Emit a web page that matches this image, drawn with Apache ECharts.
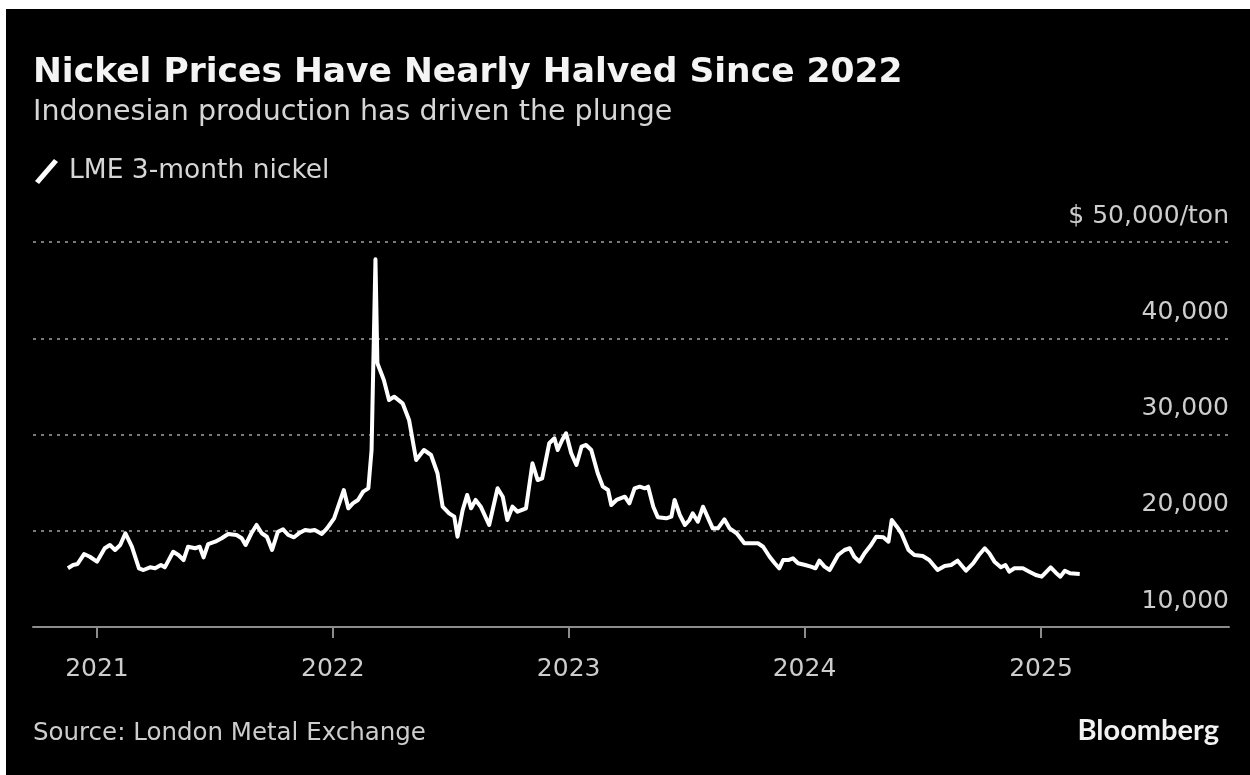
<!DOCTYPE html>
<html>
<head>
<meta charset="utf-8">
<title>Nickel Prices Have Nearly Halved Since 2022</title>
<script src="https://cdn.jsdelivr.net/npm/echarts@6/dist/echarts.min.js"></script>
<style>
  html, body { margin: 0; padding: 0; background: #fff; }
  #chart { position: absolute; left: 6px; top: 9px; width: 1244px; height: 766px; }
</style>
</head>
<body>
<div id="chart"></div>
<script>
// LME 3-month nickel, $/ton
const dates = [
  '2020-11-17', '2020-11-25', '2020-12-02', '2020-12-12', '2020-12-21',
  '2021-01-01', '2021-01-13', '2021-01-21', '2021-01-29', '2021-02-06', '2021-02-14', '2021-02-24',
  '2021-03-07', '2021-03-14', '2021-03-24', '2021-04-01', '2021-04-10', '2021-04-16', '2021-04-29',
  '2021-05-07', '2021-05-15', '2021-05-22', '2021-06-02', '2021-06-09', '2021-06-15', '2021-06-22',
  '2021-07-03', '2021-07-13', '2021-07-23', '2021-08-05', '2021-08-13', '2021-08-19', '2021-08-28',
  '2021-09-05', '2021-09-13', '2021-09-21', '2021-09-29', '2021-10-08', '2021-10-16', '2021-10-24',
  '2021-11-02', '2021-11-11', '2021-11-19', '2021-11-27', '2021-12-04', '2021-12-15', '2021-12-23',
  '2022-01-03', '2022-01-18', '2022-01-25', '2022-02-01', '2022-02-09', '2022-02-17', '2022-02-25',
  '2022-03-02', '2022-03-08', '2022-03-11', '2022-03-21', '2022-03-29', '2022-04-06', '2022-04-19',
  '2022-04-29', '2022-05-10', '2022-05-22', '2022-06-02', '2022-06-12', '2022-06-20', '2022-06-30',
  '2022-07-08', '2022-07-13', '2022-07-21', '2022-07-28', '2022-08-03', '2022-08-10', '2022-08-18',
  '2022-08-31', '2022-09-13', '2022-09-21', '2022-09-28', '2022-10-06', '2022-10-14', '2022-10-27',
  '2022-11-06', '2022-11-14', '2022-11-21', '2022-12-02', '2022-12-10', '2022-12-15', '2022-12-22',
  '2022-12-28', '2023-01-05', '2023-01-13', '2023-01-21', '2023-01-28', '2023-02-05', '2023-02-15',
  '2023-02-23', '2023-03-03', '2023-03-08', '2023-03-16', '2023-03-29', '2023-04-05', '2023-04-13',
  '2023-04-21', '2023-04-29', '2023-05-04', '2023-05-12', '2023-05-19', '2023-06-01', '2023-06-09',
  '2023-06-14', '2023-06-22', '2023-06-30', '2023-07-07', '2023-07-12', '2023-07-20', '2023-07-28',
  '2023-08-05', '2023-08-12', '2023-08-20', '2023-08-30', '2023-09-07', '2023-09-18', '2023-09-30',
  '2023-10-08', '2023-10-21', '2023-10-29', '2023-11-08', '2023-11-16', '2023-11-23', '2023-11-29',
  '2023-12-07', '2023-12-14', '2023-12-22', '2024-01-02', '2024-01-11', '2024-01-18', '2024-01-24',
  '2024-02-01', '2024-02-09', '2024-02-22', '2024-03-03', '2024-03-11', '2024-03-18', '2024-03-26',
  '2024-04-03', '2024-04-13', '2024-04-21', '2024-05-02', '2024-05-10', '2024-05-15', '2024-05-23',
  '2024-05-30', '2024-06-10', '2024-06-19', '2024-07-02', '2024-07-12', '2024-07-25', '2024-08-05',
  '2024-08-15', '2024-08-25', '2024-09-07', '2024-09-18', '2024-09-27', '2024-10-06', '2024-10-13',
  '2024-10-21', '2024-10-31', '2024-11-07', '2024-11-13', '2024-11-21', '2024-12-04', '2024-12-14',
  '2024-12-24', '2025-01-02', '2025-01-07', '2025-01-16', '2025-01-24', '2025-01-31', '2025-02-07',
  '2025-02-15', '2025-03-02'
]
const prices = [
  16100, 16440, 16550, 17580, 17300,
  16790, 18180, 18520, 18000, 18520, 19740, 18340,
  16100, 15920, 16200, 16100, 16440, 16200, 17820,
  17480, 16960, 18340, 18180, 18340, 17240, 18620,
  18860, 19220, 19660, 19560, 19220, 18520, 19740,
  20600, 19740, 19380, 18000, 19900, 20150, 19560,
  19320, 19800, 20080, 20000, 20080, 19660, 20250,
  21290, 24230, 22330, 22850, 23200, 24060, 24410,
  28390, 48200, 37400, 35660, 33580, 33930, 33240,
  31510, 27350, 28390, 27870, 25970, 22500, 21810,
  21460, 19380, 22160, 23720, 22330, 23200, 22500,
  20600, 24410, 23540, 21120, 22500, 21980, 22330,
  27010, 25270, 25450, 29090, 29610, 28390, 29430,
  30130, 28050, 26830, 28740, 28910, 28390, 25970,
  24580, 24230, 22680, 23200, 23540, 22850, 24410,
  24580, 24410, 24580, 22500, 21400, 21290, 21460,
  23200, 21640, 20600, 21120, 21810, 20940, 22500,
  21290, 20250, 20250, 21190, 20250, 19740, 18700,
  18700, 18700, 18340, 17300, 16620, 16100, 16960,
  16960, 17140, 16620, 16440, 16270, 16100, 16890,
  16270, 15920, 17480, 18000, 18180, 17300, 16790,
  17660, 18520, 19380, 19320, 18860, 21120, 20420,
  19740, 18000, 17480, 17380, 16960, 15920, 16340,
  16440, 16890, 15850, 16620, 17480, 18180, 17660,
  16790, 16200, 16440, 15750, 16100, 16100, 15750,
  15400, 15230, 15580, 16200, 15640, 15230, 15850,
  15580, 15510
]
const yTicks = [10000, 20000, 30000, 40000, 50000]

const font = 'DejaVu Sans'
const labelColor = '#cdcdcd'
const YEAR = 365.25 * 24 * 3600 * 1000

const toTime = s => {
  const [y, m, d] = s.split('-').map(Number)
  return new Date(y, m - 1, d).getTime()
}

const chart = echarts.init(document.getElementById('chart'))

const option = {
  backgroundColor: '#000',
  animation: false,
  graphic: [
    {
      type: 'text',
      style: {
        x: 27, y: 64, text: 'Nickel Prices Have Nearly Halved Since 2022',
        font: 'bold 34.5px ' + font, fill: '#f4f4f4', verticalAlign: 'middle'
      }
    },
    {
      type: 'text',
      style: {
        x: 27, y: 104, text: 'Indonesian production has driven the plunge',
        font: '28.5px ' + font, fill: '#d6d6d6', verticalAlign: 'middle'
      }
    },
    {
      type: 'text',
      style: {
        x: 27, y: 725, text: 'Source: London Metal Exchange',
        font: '24.5px ' + font, fill: labelColor, verticalAlign: 'middle'
      }
    },
    {
      type: 'text',
      style: {
        x: 1213, y: 722, text: 'Bloomberg',
        font: 'bold 29px Lato', fill: '#f2f2f2', align: 'right', verticalAlign: 'middle'
      }
    }
  ],
  legend: {
    left: 29,
    top: 149,
    padding: 0,
    itemWidth: 25,
    itemHeight: 25,
    icon: 'path://M0,22 L19,0 L23,3 L4,25 Z',
    textStyle: { color: '#d6d6d6', fontSize: 26.5, fontFamily: font, padding: [0, 0, 0, 5] },
    data: ['LME 3-month nickel']
  },
  grid: {
    left: 27,
    right: 21,
    top: 233,
    bottom: 148
  },
  xAxis: {
    type: 'time',
    min: toTime('2020-09-24'),
    max: toTime('2025-10-19'),
    minInterval: YEAR,
    maxInterval: YEAR,
    axisLine: { lineStyle: { color: '#8c8c8c', width: 2 } },
    axisTick: {
      show: true,
      length: 11,
      lineStyle: { color: '#8c8c8c', width: 2 }
    },
    axisLabel: {
      formatter: '{yyyy}',
      showMinLabel: false,
      showMaxLabel: false,
      color: labelColor,
      fontSize: 25,
      fontFamily: font,
      margin: 30
    },
    splitLine: { show: false }
  },
  yAxis: {
    type: 'value',
    position: 'right',
    min: yTicks[0],
    max: yTicks[yTicks.length - 1],
    interval: 10000,
    axisLine: { show: false },
    axisTick: { show: false },
    splitLine: {
      showMinLine: false,
      lineStyle: { color: '#7a7a7a', width: 2, type: [3, 5] }
    },
    axisLabel: {
      inside: true,
      margin: 0,
      verticalAlign: 'bottom',
      lineHeight: 52,
      color: labelColor,
      fontSize: 25,
      fontFamily: font,
      formatter: v => v === 50000 ? '$ 50,000/ton' : v.toLocaleString('en-US')
    }
  },
  series: [
    {
      name: 'LME 3-month nickel',
      type: 'line',
      symbol: 'none',
      itemStyle: { color: '#fff' },
      lineStyle: { color: '#fff', width: 4, join: 'round' },
      data: dates.map((d, i) => [toTime(d), prices[i]])
    }
  ]
}

chart.setOption(option)
</script>
</body>
</html>
